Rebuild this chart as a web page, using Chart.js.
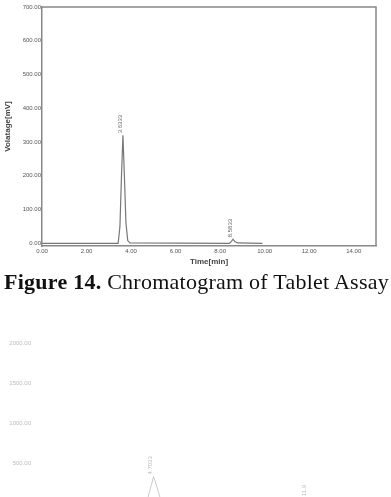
<!DOCTYPE html>
<html>
<head>
<meta charset="utf-8">
<script src="https://cdn.jsdelivr.net/npm/chart.js@4.4.0/dist/chart.umd.min.js"></script>
<style>
  body { margin: 0; background: #fff; width: 391px; height: 497px; overflow: hidden; position: relative; }
  #top { position: absolute; left: 0; top: 0; }
  #bottom { position: absolute; left: 0; top: 310px; }
  #caption {
    position: absolute; left: 4px; top: 269px; white-space: nowrap; letter-spacing: 0.25px;
    font-family: "Liberation Serif", "Times New Roman", serif; font-size: 22px; color: #111;
  }
  #caption b { font-weight: bold; }
</style>
</head>
<body>
<canvas id="top" width="391" height="270"></canvas>
<div id="caption"><b>Figure 14.</b> Chromatogram of Tablet Assay</div>
<canvas id="bottom" width="391" height="200"></canvas>
<script>
// top chromatogram trace (time in min, voltage in mV)
const traceTime = [0, 3.42, 3.5, 3.57, 3.635, 3.7, 3.77, 3.85, 3.95, 8.42, 8.5, 8.58, 8.66, 8.78, 9.9];
const traceMv   = [0, 0, 50, 200, 320, 200, 60, 8, 1, 0, 5, 12, 5, 1, 0];
const peakTimes  = [3.6333, 8.5833];
const peakHeights = [320, 12];
const peakLabels = ['3.6333', '8.5833'];
const xTicks = [0, 2, 4, 6, 8, 10, 12, 14];
const yTicks = [0, 100, 200, 300, 400, 500, 600, 700];

// second (cut off) chromatogram
const trace2Time = [0, 4.9, 5.05, 5.2, 5.3, 5.45, 5.6, 5.8, 11.7, 11.9, 12.0, 12.1, 12.3, 15];
const trace2Mv   = [0, 0, 60, 220, 330, 200, 50, 0, 0, 40, 60, 40, 0, 0];
const peak2Times = [5.3, 12.0];
const peak2Heights = [330, 60];
const peak2Labels = ['4.7033', '11.9'];
const y2Ticks = [500, 1000, 1500, 2000];

function toPoints(xs, ys) {
  return xs.map((x, i) => ({ x: x, y: ys[i] }));
}

// draws frame box and rotated peak labels
function peakLabelPlugin(times, heights, labels, color, drawFrame) {
  return {
    id: 'peaks',
    afterDatasetsDraw(chart) {
      const ctx = chart.ctx;
      const xs = chart.scales.x, ys = chart.scales.y;
      ctx.save();
      if (drawFrame) {
        const a = chart.chartArea;
        ctx.strokeStyle = '#888';
        ctx.lineWidth = 1.5;
        ctx.beginPath();
        ctx.moveTo(a.left, a.top);
        ctx.lineTo(a.right, a.top);
        ctx.lineTo(a.right, a.bottom);
        ctx.stroke();
      }
      ctx.fillStyle = color;
      ctx.font = '6px "Liberation Sans", Arial, sans-serif';
      ctx.textAlign = 'left';
      ctx.textBaseline = 'middle';
      times.forEach((t, i) => {
        const px = xs.getPixelForValue(t) - 3;
        const py = ys.getPixelForValue(heights[i]) - 2;
        ctx.save();
        ctx.translate(px, py);
        ctx.rotate(-Math.PI / 2);
        ctx.fillText(labels[i], 0, 0);
        ctx.restore();
      });
      ctx.restore();
    }
  };
}

const noGrid = { display: false, drawTicks: false, tickLength: 0 };

new Chart(document.getElementById('top').getContext('2d'), {
  type: 'line',
  data: {
    datasets: [{
      data: toPoints(traceTime, traceMv),
      borderColor: '#777',
      borderWidth: 1.2,
      pointRadius: 0,
      tension: 0,
      fill: false
    }]
  },
  options: {
    responsive: false,
    animation: false,
    devicePixelRatio: 1,
    layout: { padding: { left: 0, top: 7, right: 15, bottom: 0 } },
    plugins: { legend: { display: false }, tooltip: { enabled: false } },
    scales: {
      x: {
        type: 'linear',
        min: 0,
        max: 15,
        afterBuildTicks: s => { s.ticks = xTicks.map(v => ({ value: v })); },
        afterFit: s => { s.height = 24; },
        ticks: {
          callback: v => v.toFixed(2),
          font: { size: 6, family: '"Liberation Sans", Arial, sans-serif' },
          color: '#555',
          padding: 2,
          maxRotation: 0
        },
        grid: noGrid,
        border: { display: true, color: '#888', width: 1.5 },
        title: {
          display: true,
          text: 'Time[min]',
          font: { size: 8, weight: 'bold', family: '"Liberation Sans", Arial, sans-serif' },
          color: '#444',
          padding: { top: 0, bottom: 3 }
        }
      },
      y: {
        min: -8,
        max: 700,
        afterBuildTicks: s => { s.ticks = yTicks.map(v => ({ value: v })); },
        afterFit: s => { s.width = 42; },
        ticks: {
          callback: v => v.toFixed(2),
          font: { size: 6, family: '"Liberation Sans", Arial, sans-serif' },
          color: '#555',
          padding: 1
        },
        grid: noGrid,
        border: { display: true, color: '#888', width: 1.5 },
        title: {
          display: true,
          text: 'Volatage[mV]',
          font: { size: 8, weight: 'bold', family: '"Liberation Sans", Arial, sans-serif' },
          color: '#444',
          padding: { top: 3, bottom: 0 }
        }
      }
    }
  },
  plugins: [peakLabelPlugin(peakTimes, peakHeights, peakLabels, '#666', true)]
});

new Chart(document.getElementById('bottom').getContext('2d'), {
  type: 'line',
  data: {
    datasets: [{
      data: toPoints(trace2Time, trace2Mv),
      borderColor: '#ccc',
      borderWidth: 1,
      pointRadius: 0,
      tension: 0,
      fill: false
    }]
  },
  options: {
    responsive: false,
    animation: false,
    devicePixelRatio: 1,
    layout: { padding: { left: 0, top: 13, right: 15, bottom: 7 } },
    plugins: { legend: { display: false }, tooltip: { enabled: false } },
    scales: {
      x: { type: 'linear', min: 0, max: 15, display: false },
      y: {
        min: 0,
        max: 2250,
        afterBuildTicks: s => { s.ticks = y2Ticks.map(v => ({ value: v })); },
        afterFit: s => { s.width = 32; },
        ticks: {
          callback: v => v.toFixed(2),
          font: { size: 6, family: '"Liberation Sans", Arial, sans-serif' },
          color: '#bbb',
          padding: 1
        },
        grid: noGrid,
        border: { display: false }
      }
    }
  },
  plugins: [peakLabelPlugin(peak2Times, peak2Heights, peak2Labels, '#bbb', false)]
});
</script>
</body>
</html>
